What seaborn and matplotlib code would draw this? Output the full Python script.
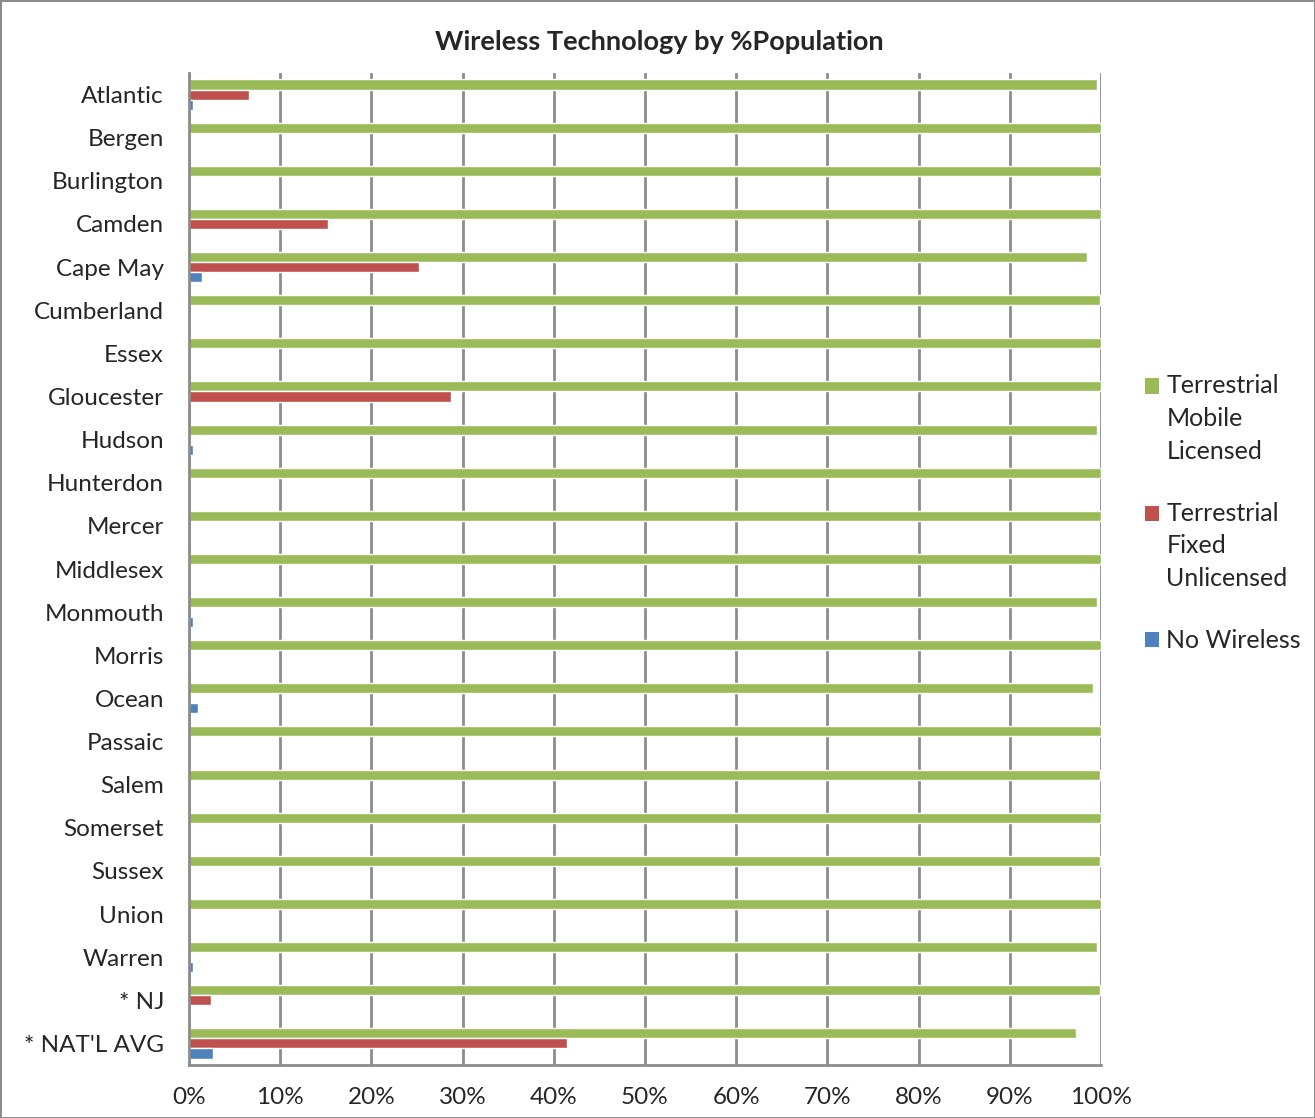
import pandas as pd
import numpy as np
import matplotlib.pyplot as plt
import seaborn as sns
from matplotlib.legend_handler import HandlerPatch
from matplotlib.patches import Rectangle

counties = ["Atlantic", "Bergen", "Burlington", "Camden", "Cape May", "Cumberland",
            "Essex", "Gloucester", "Hudson", "Hunterdon", "Mercer", "Middlesex",
            "Monmouth", "Morris", "Ocean", "Passaic", "Salem", "Somerset", "Sussex",
            "Union", "Warren", "* NJ", "* NAT'L AVG"]
mobile_licensed = [99.6, 100, 100, 100, 98.5, 99.9, 100, 100, 99.6, 100, 100, 100,
                   99.6, 100, 99.1, 100, 99.9, 100, 99.9, 100, 99.6, 99.9, 97.3]
fixed_unlicensed = [6.6, 0, 0, 15.2, 25.2, 0, 0, 28.7, 0, 0, 0, 0,
                    0, 0, 0.1, 0, 0, 0, 0, 0, 0, 2.4, 41.4]
no_wireless = [0.4, 0, 0, 0, 1.4, 0.1, 0, 0, 0.4, 0, 0, 0,
               0.4, 0, 1.0, 0, 0.05, 0, 0.05, 0, 0.4, 0.1, 2.6]

series = ["Terrestrial\nMobile\nLicensed", "Terrestrial\nFixed\nUnlicensed", "No Wireless"]
colors = ["#9BBB59", "#C0504D", "#4F81BD"]

df = pd.DataFrame({"county": counties, series[0]: mobile_licensed,
                   series[1]: fixed_unlicensed, series[2]: no_wireless})
long = df.melt(id_vars="county", var_name="tech", value_name="pct")

sns.set_style("white")
plt.rcParams["font.family"] = ["Lato", "DejaVu Sans"]


# legend square that sits on the first line of a multi-line label
class TopSquare(HandlerPatch):
    def __init__(self, shift):
        super().__init__()
        self.shift = shift

    def create_artists(self, legend, orig_handle, xdescent, ydescent, width, height, fontsize, trans):
        p = Rectangle((-xdescent, -ydescent + self.shift), width, height,
                      facecolor=orig_handle.get_facecolor(), edgecolor="none")
        p.set_transform(trans)
        return [p]


fig = plt.figure(figsize=(13.15, 11.18), dpi=100)
fig.patch.set_edgecolor("#8c8c8c")
fig.patch.set_linewidth(2)
ax = fig.add_axes([189 / 1315, 1 - 1065 / 1118, (1101 - 189) / 1315, (1065 - 73) / 1118])

sns.barplot(data=long, x="pct", y="county", hue="tech", hue_order=series,
            palette=colors, saturation=1, orient="h", width=0.7, gap=0, ax=ax, legend=True)

ax.set_xlim(0, 100)
ax.set_ylim(len(counties) - 0.5, -0.5)
ax.set_xticks(np.arange(0, 101, 10))
ax.set_xticklabels([f"{v}%" for v in range(0, 101, 10)], fontsize=17.5)
ax.set_yticks(range(len(counties)))
ax.set_yticklabels(counties, fontsize=17.5)
ax.set_yticks(np.arange(-0.5, len(counties), 1), minor=True)
ax.tick_params(axis="y", which="major", length=0, pad=18)
ax.tick_params(axis="y", which="minor", length=7, width=2, color="#8c8c8c")
ax.tick_params(axis="x", length=7, width=2, color="#8c8c8c", pad=9)
ax.set_xlabel("")
ax.set_ylabel("")
ax.grid(axis="x", color="#8c8c8c", linewidth=2)
ax.set_axisbelow(True)
for s in ["top", "right"]:
    ax.spines[s].set_visible(False)
for s in ["left", "bottom"]:
    ax.spines[s].set_color("#8c8c8c")
    ax.spines[s].set_linewidth(2)

fig.suptitle("Wireless Technology by %Population", x=0.5015, y=1 - 42 / 1118, va="center",
             fontsize=19.5, fontweight="bold")

handles, labels = ax.get_legend_handles_labels()
pitch = 23.8
hmap = {h: TopSquare(pitch if "\n" in lab else 0) for h, lab in zip(handles, labels)}
leg = ax.legend(handles, labels, loc="upper left", bbox_to_anchor=(1145 / 1315, 1 - 374 / 1118),
                bbox_transform=fig.transFigure, frameon=False, fontsize=18,
                handlelength=0.56, handleheight=0.56, handletextpad=0.3, labelspacing=1.55,
                borderaxespad=0, borderpad=0, handler_map=hmap)
for t in leg.get_texts():
    t.set_linespacing(1.52)

fig.savefig("out.png", dpi=100)
